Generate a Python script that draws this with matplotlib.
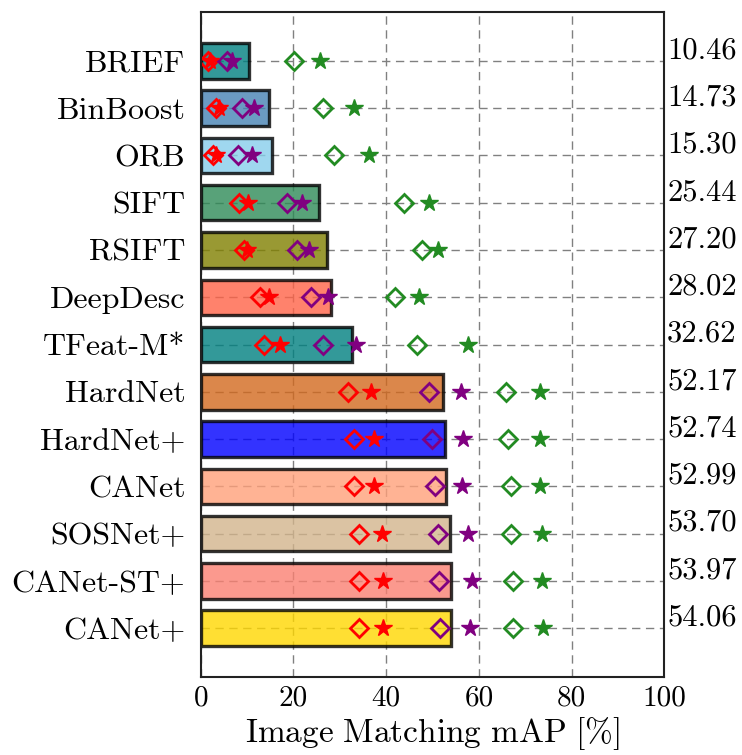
import numpy as np
import matplotlib
matplotlib.use('Agg')
import matplotlib.pyplot as plt

plt.rcParams['font.family'] = 'serif'
plt.rcParams['font.serif'] = ['cmr10', 'DejaVu Serif']
plt.rcParams['mathtext.fontset'] = 'cm'
plt.rcParams['axes.unicode_minus'] = False

# Datos
methods = ['BRIEF', 'BinBoost', 'ORB', 'SIFT', 'RSIFT', 'DeepDesc', 'TFeat-M*',
           'HardNet', 'HardNet+', 'CANet', 'SOSNet+', 'CANet-ST+', 'CANet+']
mean_map = [10.46, 14.73, 15.30, 25.44, 27.20, 28.02, 32.62,
            52.17, 52.74, 52.99, 53.70, 53.97, 54.06]
bar_colors = ['teal', 'steelblue', 'skyblue', 'seagreen', 'olive', 'tomato', 'teal',
              'chocolate', 'blue', 'lightsalmon', 'tan', 'salmon', 'gold']

red_diamond = [1.6, 3.4, 2.7, 8.3, 9.4, 12.8, 13.6, 31.8, 33.1, 33.1, 34.2, 34.1, 34.2]
red_star = [2.0, 3.9, 3.2, 10.1, 9.9, 14.7, 17.2, 36.7, 37.4, 37.4, 39.0, 39.4, 39.4]
purple_diamond = [5.6, 9.0, 8.1, 18.5, 20.8, 23.8, 26.4, 49.2, 49.9, 50.5, 51.1, 51.4, 51.6]
purple_star = [6.8, 11.5, 11.1, 21.8, 23.3, 27.5, 33.5, 56.2, 56.5, 56.4, 57.7, 58.4, 58.1]
green_diamond = [20.2, 26.4, 28.7, 43.8, 47.8, 41.9, 46.7, 65.8, 66.2, 67.0, 67.0, 67.4, 67.4]
green_star = [25.7, 33.0, 36.3, 49.3, 51.2, 47.0, 57.7, 73.1, 73.1, 73.1, 73.5, 73.5, 73.8]

y = np.arange(len(methods))

fig = plt.figure(figsize=(7.42, 7.55), dpi=100)
ax = fig.add_axes([0.2705, 0.1029, 0.625, 0.8816])

ax.set_axisbelow(True)
ax.grid(True, linestyle='--', color='gray', linewidth=1.0, dashes=(6, 4))

ax.barh(y, mean_map, height=0.75, color=bar_colors, alpha=0.8,
        edgecolor='black', linewidth=2.4)

# Marcadores: rombos huecos y estrellas
for vals, col in [(red_diamond, 'red'), (purple_diamond, 'purple'), (green_diamond, 'forestgreen')]:
    ax.plot(vals, y, 'D', markersize=9, markerfacecolor='none',
            markeredgecolor=col, markeredgewidth=2.0, linestyle='none')
for vals, col in [(red_star, 'red'), (purple_star, 'purple'), (green_star, 'forestgreen')]:
    ax.plot(vals, y, '*', markersize=13, color=col, linestyle='none')

# Valores a la derecha
for yi, v in zip(y, mean_map):
    ax.text(1.006, yi - 0.22, '%.2f' % v, transform=ax.get_yaxis_transform(),
            ha='left', va='center', fontsize=22)

ax.set_xlim(0, 100)
ax.set_ylim(len(methods) - 1 + 1.04, -1.04)
ax.set_yticks(y)
ax.set_yticklabels(methods)
ax.set_xticks([0, 20, 40, 60, 80, 100])
ax.tick_params(axis='both', length=0, labelsize=21)
ax.tick_params(axis='y', pad=11, labelsize=23)
ax.tick_params(axis='x', pad=6)
ax.set_xlabel(r'$\mathrm{Image\ Matching\ mAP\ [\%]}$', fontsize=24, labelpad=2)
for s in ax.spines.values():
    s.set_linewidth(1.5)
    s.set_color('#222222')

fig.savefig('out.png', dpi=100)
